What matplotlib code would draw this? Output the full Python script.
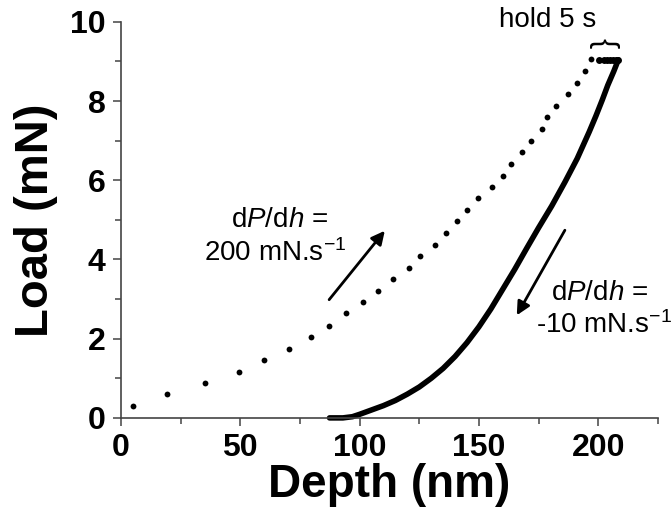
import numpy as np
import matplotlib.pyplot as plt
from matplotlib.ticker import MultipleLocator

plt.rcParams['font.family'] = ['Liberation Sans', 'DejaVu Sans']
plt.rcParams['mathtext.fontset'] = 'custom'
plt.rcParams['mathtext.rm'] = 'Liberation Sans'
plt.rcParams['mathtext.it'] = 'Liberation Sans:italic'

# loading segment (dots), depth in nm, load in mN
load_depth = [5.0, 19.2, 35.1, 49.4, 59.8, 70.3, 79.5, 87.0, 94.1, 101.3,
              107.9, 113.8, 120.9, 125.5, 131.4, 136.0, 141.0, 145.2, 149.8,
              155.6, 160.3, 163.6, 168.2, 172.0, 176.6, 178.7, 182.4, 187.4,
              191.2, 194.6, 197.1]
load_P = [0.30, 0.61, 0.88, 1.16, 1.46, 1.74, 2.05, 2.32, 2.65, 2.93,
          3.21, 3.51, 3.79, 4.09, 4.37, 4.67, 4.97, 5.25, 5.56,
          5.83, 6.11, 6.41, 6.72, 6.99, 7.30, 7.60, 7.88, 8.18,
          8.46, 8.76, 9.07]

# hold at max load
hold_depth = [200.4, 202.3, 203.6, 204.9, 206.1, 207.3, 208.4]
hold_P = [9.05, 9.05, 9.05, 9.05, 9.05, 9.05, 9.05]

# unloading segment (dense, drawn as thick line)
unload_depth = [208.4, 206.5, 204.0, 201.7, 199.0, 196.2, 191.2, 186.0,
                180.5, 175.0, 170.0, 165.0, 160.0, 155.0, 150.0, 145.0,
                140.0, 135.0, 130.0, 125.0, 120.0, 115.0, 110.0, 105.0,
                100.0, 97.0, 93.0, 87.4]
unload_P = [9.04, 8.75, 8.40, 8.03, 7.62, 7.22, 6.55, 5.95,
            5.35, 4.80, 4.28, 3.75, 3.25, 2.75, 2.30, 1.90,
            1.55, 1.25, 1.00, 0.78, 0.60, 0.44, 0.31, 0.20,
            0.09, 0.03, 0.0, 0.0]

fig = plt.figure(figsize=(6.72, 5.09), dpi=100)
ax = fig.add_axes([0.18, 0.179, 0.799, 0.778])

ax.plot(load_depth, load_P, 'o', color='k', ms=4.2, mec='none', clip_on=False)
ax.plot(hold_depth, hold_P, 'o', color='k', ms=5, mec='none', clip_on=False)
ax.plot(unload_depth, unload_P, '-', color='k', lw=4,
        solid_capstyle='round', solid_joinstyle='round', clip_on=False)

ax.set_xlim(0, 225)
ax.set_ylim(0, 10)
ax.xaxis.set_major_locator(MultipleLocator(50))
ax.xaxis.set_minor_locator(MultipleLocator(25))
ax.yaxis.set_major_locator(MultipleLocator(2))
ax.yaxis.set_minor_locator(MultipleLocator(1))

for s in ['top', 'right']:
    ax.spines[s].set_visible(False)
for s in ['left', 'bottom']:
    ax.spines[s].set_color('#444444')
    ax.spines[s].set_linewidth(1.2)

ax.tick_params(which='major', direction='out', length=6, width=1.1,
               color='#444444', labelsize=23, pad=5)
ax.tick_params(which='minor', direction='out', length=4, width=1.1,
               color='#444444')
for lab in ax.get_xticklabels() + ax.get_yticklabels():
    lab.set_fontweight('bold')

ax.set_xlabel('Depth (nm)', fontsize=33, fontweight='bold', labelpad=0)
ax.set_ylabel('Load (mN)', fontsize=34, fontweight='bold', labelpad=9)

# annotations
ax.text(66.5, 5.0, 'd$\\it{P}$/d$\\it{h}$ =', fontsize=20, ha='center', va='center')
ax.text(64.6, 4.17, '200 mN.s$^{-1}$', fontsize=20, ha='center', va='center')
ax.annotate('', xy=(111.3, 4.78), xytext=(86.5, 2.93),
            arrowprops=dict(arrowstyle='-|>', color='k', lw=2,
                            mutation_scale=20))

ax.text(200.4, 3.16, 'd$\\it{P}$/d$\\it{h}$ =', fontsize=20, ha='center',
        va='center', clip_on=False)
ax.text(202.5, 2.35, '-10 mN.s$^{-1}$', fontsize=20, ha='center', va='center',
        clip_on=False)
ax.annotate('', xy=(165.3, 2.53), xytext=(186.6, 4.8),
            arrowprops=dict(arrowstyle='-|>', color='k', lw=2,
                            mutation_scale=20))

ax.text(178.7, 10.05, 'hold 5 s', fontsize=20, ha='center', va='center',
        clip_on=False)
ax.text(202.0, 9.47, '{', fontsize=22, rotation=-90, ha='center', va='center',
        clip_on=False)

fig.savefig('out.png', dpi=100)
